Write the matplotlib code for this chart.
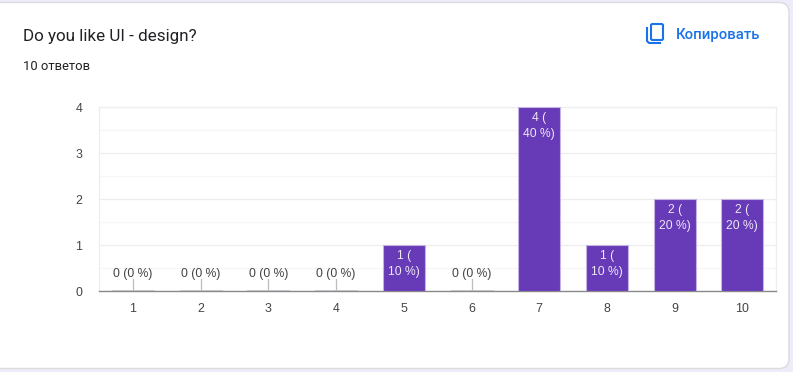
import matplotlib
matplotlib.use('Agg')
import matplotlib.pyplot as plt
from matplotlib.patches import FancyBboxPatch

plt.rcParams['font.family'] = ['Roboto', 'DejaVu Sans']

categories = ['1', '2', '3', '4', '5', '6', '7', '8', '9', '10']
counts = [0, 0, 0, 0, 1, 0, 4, 1, 2, 2]
percents = [0, 0, 0, 0, 10, 0, 40, 10, 20, 20]
yticks = [0, 1, 2, 3, 4]
title = 'Do you like UI - design?'
subtitle = '10 ответов'
copy_text = 'Копировать'

W, H = 793, 372
chart_font = 'Liberation Sans'
fig = plt.figure(figsize=(W / 100, H / 100), dpi=100, facecolor='#f0ebf8')

# card and header, in pixel coordinates
bg = fig.add_axes([0, 0, 1, 1])
bg.set_xlim(0, W)
bg.set_ylim(H, 0)
bg.axis('off')
bg.add_patch(FancyBboxPatch((-20, 2.5), 809, 366, boxstyle='round,pad=0,rounding_size=10',
                            fc='white', ec='#dadce0', lw=1))
bg.text(23, 36, title, fontsize=12.25, color='#202124', va='center', ha='left')
bg.text(23, 66, subtitle, fontsize=9.4, color='#202124', va='center', ha='left')
bg.text(676, 35, copy_text, fontsize=10.7, color='#1a73e8', va='center', ha='left', fontweight='medium')

# copy icon
bg.add_patch(FancyBboxPatch((651, 24), 12, 16, boxstyle='round,pad=0,rounding_size=1.5',
                            fc='none', ec='#1a73e8', lw=1.5))
bg.plot([647, 647, 649, 660], [28, 41, 43, 43], color='#1a73e8', lw=1.5)

ax = fig.add_axes([99.2 / W, 1 - 291 / H, 677 / W, 183.7 / H])
ax.set_facecolor('none')
x = list(range(1, len(categories) + 1))

ax.bar(x, counts, width=0.62, color='#673ab7', edgecolor='#c5b3e3', linewidth=0.8, zorder=3)

for xi, c, p in zip(x, counts, percents):
    if c == 0:
        ax.plot([xi - 0.31, xi + 0.31], [0, 0], color='#4a4a6a', lw=1, zorder=4)
        ax.plot([xi, xi], [0, 0.26], color='#bdbdbd', lw=0.9, zorder=4)
        ax.text(xi, 0.38, '%d (%d %%)' % (c, p), fontsize=8.7, color='#424242',
                family=chart_font, ha='center', va='center', zorder=5)
    else:
        ax.text(xi, c - 0.10, '%d (\n%d %%)' % (c, p), fontsize=8.7, color='#ede7f6',
                family=chart_font, ha='center', va='top', linespacing=1.45, zorder=5)

ax.set_xlim(0.5, 10.5)
ax.set_ylim(0, 4)
ax.set_xticks(x)
ax.set_xticklabels(categories, family=chart_font)
ax.set_yticks(yticks)
ax.set_yticklabels([str(v) for v in yticks], family=chart_font)
ax.set_yticks([0.5, 1.5, 2.5, 3.5], minor=True)
ax.grid(axis='y', which='major', color='#eeeeee', lw=0.9, zorder=0)
ax.grid(axis='y', which='minor', color='#f6f6f6', lw=0.9, zorder=0)
ax.tick_params(axis='both', which='both', length=0)
ax.tick_params(axis='x', labelsize=8.9, labelcolor='#444444', pad=9)
ax.tick_params(axis='y', labelsize=8.9, labelcolor='#444444', pad=12)
for s in ['top', 'right', 'left']:
    ax.spines[s].set_color('#eeeeee')
    ax.spines[s].set_linewidth(0.9)
ax.spines['bottom'].set_color('#8a8a8a')
ax.spines['bottom'].set_linewidth(1)

fig.savefig('out.png', dpi=100, facecolor=fig.get_facecolor())
